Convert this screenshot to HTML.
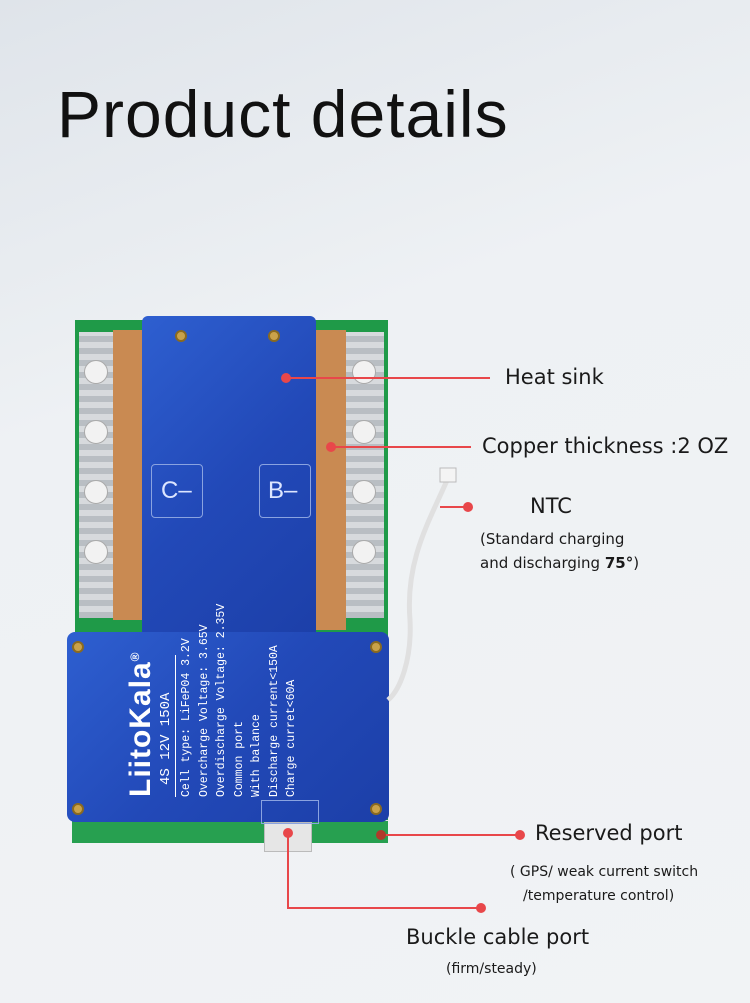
<!DOCTYPE html>
<html><head><meta charset="utf-8">
<style>
body{margin:0;width:750px;height:1003px;overflow:hidden;position:relative;font-family:"Liberation Sans",sans-serif;
background:linear-gradient(160deg,#dfe4ea 0%,#eef1f4 35%,#f1f3f5 100%);}
.a{position:absolute}
.t{position:absolute;color:#1a1a1a;white-space:nowrap;font-family:"DejaVu Sans",sans-serif}
.ln{position:absolute;background:#e8474a}
.dot{position:absolute;width:10px;height:10px;border-radius:50%;background:#e8474a}
.silver{background:repeating-linear-gradient(0deg,#b9bec3 0 6px,#d7dadd 6px 12px);}
.copper{background:#c98a52}
.hole{position:absolute;width:22px;height:22px;border-radius:50%;background:#f2f2f2;border:1px solid #aaa}
.screw{position:absolute;width:12px;height:12px;border-radius:50%;background:#c9a24a;border:2px solid #8a6a20;box-sizing:border-box}
.blue{background:linear-gradient(135deg,#2e5fd0,#2249b8 50%,#1c3fa8)}
</style></head><body>
<div class="a" style="left:57px;top:76px;font-size:66px;letter-spacing:1px;color:#111;white-space:nowrap">Product details</div>

<!-- PCB -->
<div class="a" style="left:75px;top:320px;width:313px;height:522px;background:#1f9a48"></div>
<div class="a silver" style="left:79px;top:332px;width:34px;height:286px"></div>
<div class="a silver" style="left:346px;top:332px;width:38px;height:286px"></div>
<div class="a copper" style="left:113px;top:330px;width:30px;height:290px"></div>
<div class="a copper" style="left:316px;top:330px;width:30px;height:300px"></div>
<div class="hole" style="left:84px;top:360px"></div><div class="hole" style="left:84px;top:420px"></div>
<div class="hole" style="left:84px;top:480px"></div><div class="hole" style="left:84px;top:540px"></div>
<div class="hole" style="left:352px;top:360px"></div><div class="hole" style="left:352px;top:420px"></div>
<div class="hole" style="left:352px;top:480px"></div><div class="hole" style="left:352px;top:540px"></div>
<div class="a" style="left:72px;top:820px;width:316px;height:22px;background:#27a050;border-top:1px solid #e8e8e8"></div>
<div class="a" style="left:264px;top:822px;width:46px;height:28px;background:#e6e6e6;border:1px solid #bbb"></div>

<!-- heat sink -->
<div class="a blue" style="left:142px;top:316px;width:174px;height:330px;border-radius:6px"></div>
<div class="a blue" style="left:67px;top:632px;width:322px;height:190px;border-radius:8px"></div>
<div class="a" style="left:151px;top:464px;width:50px;height:52px;border:1px solid #8aa3e0;border-radius:4px"></div>
<div class="a" style="left:259px;top:464px;width:50px;height:52px;border:1px solid #8aa3e0;border-radius:4px"></div>
<div class="a" style="left:161px;top:477px;color:#dde6ff;font-size:24px">C–</div>
<div class="a" style="left:268px;top:477px;color:#dde6ff;font-size:24px">B–</div>
<div class="screw" style="left:175px;top:330px"></div><div class="screw" style="left:268px;top:330px"></div>
<div class="screw" style="left:72px;top:641px"></div><div class="screw" style="left:370px;top:641px"></div>
<div class="screw" style="left:72px;top:803px"></div><div class="screw" style="left:370px;top:803px"></div>

<div class="a" style="left:118px;top:797px;transform-origin:0 0;transform:rotate(-90deg);color:#fff;white-space:nowrap">
 <div style="font-size:30px;font-weight:bold;line-height:34px;letter-spacing:1px">LiitoKala<sup style="font-size:12px">®</sup></div>
 <div style="font-family:'Liberation Mono',monospace;font-size:14px;line-height:17px;padding-left:12px;border-bottom:1px solid #fff;width:130px">4S 12V 150A</div>
 <div style="font-family:'Liberation Mono',monospace;font-size:11.5px;line-height:17.5px;margin-top:2px">Cell type: LiFeP04 3.2V<br>Overcharge Voltage: 3.65V<br>Overdischarge Voltage: 2.35V<br>Common port<br>With balance<br>Discharge current&lt;150A<br>Charge curret&lt;60A</div>
</div>
<div class="a" style="left:261px;top:800px;width:56px;height:22px;border:1px solid #8aa3e0"></div>

<!-- NTC wire -->
<svg class="a" style="left:0;top:0" width="750" height="1003"><path d="M448 478 C430 520 405 560 410 620 C412 660 400 690 388 700" stroke="#e0e0e0" stroke-width="5" fill="none"/>
<rect x="440" y="468" width="16" height="14" fill="#f4f4f4" stroke="#bbb"/></svg>

<!-- callouts -->
<div class="ln" style="left:286px;top:377px;width:204px;height:2px"></div><div class="dot" style="left:281px;top:373px"></div>
<div class="t" style="left:505px;top:365px;font-size:21px">Heat sink</div>
<div class="ln" style="left:331px;top:446px;width:140px;height:2px"></div><div class="dot" style="left:326px;top:442px"></div>
<div class="t" style="left:482px;top:434px;font-size:21px">Copper thickness :2 OZ</div>
<div class="ln" style="left:440px;top:506px;width:30px;height:2px"></div><div class="dot" style="left:463px;top:502px"></div>
<div class="t" style="left:530px;top:494px;font-size:21px">NTC</div>
<div class="t" style="left:480px;top:530px;font-size:15px">(Standard charging</div>
<div class="t" style="left:480px;top:554px;font-size:15px">and discharging <b>75°</b>)</div>
<div class="ln" style="left:380px;top:834px;width:140px;height:2px"></div><div class="dot" style="left:515px;top:830px"></div>
<div class="dot" style="left:376px;top:830px;background:#b03a2a"></div>
<div class="t" style="left:535px;top:821px;font-size:21px">Reserved port</div>
<div class="t" style="left:510px;top:864px;font-size:14px">( GPS/ weak current switch</div>
<div class="t" style="left:523px;top:888px;font-size:14px">/temperature control)</div>
<div class="dot" style="left:283px;top:828px"></div>
<div class="ln" style="left:287px;top:833px;width:2px;height:76px"></div>
<div class="ln" style="left:287px;top:907px;width:195px;height:2px"></div><div class="dot" style="left:476px;top:903px"></div>
<div class="t" style="left:406px;top:925px;font-size:21px">Buckle cable port</div>
<div class="t" style="left:446px;top:961px;font-size:14px">(firm/steady)</div>
</body></html>
